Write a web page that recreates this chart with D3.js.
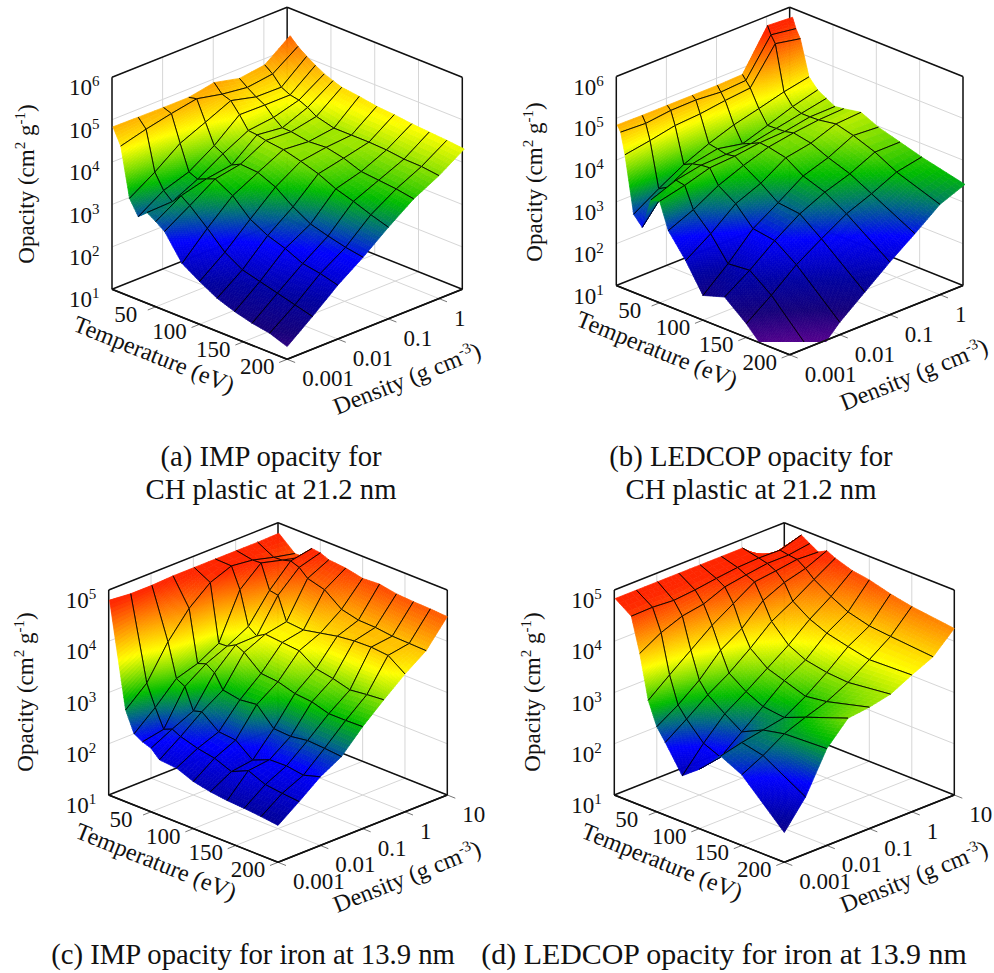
<!DOCTYPE html>
<html>
<head>
<meta charset="utf-8">
<script src="https://cdn.jsdelivr.net/npm/d3@7"></script>
<style>
  body { margin: 0; background: #fff; }
  text { font-family: "Liberation Serif", serif; fill: #111; }
</style>
</head>
<body>
<script>
// density grid is half decades, log10(g/cm3)
const densityLogCH = [-3, -2.5, -2, -1.5, -1, -0.5, 0, 0.5];
const densityLogFe = [-3, -2.5, -2, -1.5, -1, -0.5, 0, 0.5, 1];

const tempImpCH = [1, 10, 20, 30, 40, 50, 60, 80, 100, 120, 140, 160, 180, 200];
const tempLedCH = [1, 5, 10, 20, 30, 40, 50, 60, 80, 100, 125, 150, 200];
const tempImpFe = [1, 20, 30, 40, 50, 60, 80, 100, 120, 140, 160, 180, 200];
const tempLedFe = [1, 20, 30, 40, 50, 60, 80, 100, 125, 150, 200];

// log10 opacity, one row per density, one column per temperature
const opacityImpCH = [
  [4.84,4.46,3.31,2.96,3.14,3.01,2.86,2.27,2.01,1.78,1.63,1.52,1.45,1.30],
  [4.83,4.62,3.69,3.34,3.16,3.38,3.23,2.86,2.46,2.21,2.10,1.99,1.88,1.77],
  [4.82,4.75,4.13,3.54,3.45,3.54,3.62,3.39,3.00,2.78,2.64,2.45,2.38,2.27],
  [4.82,4.86,4.39,3.92,3.81,3.63,3.73,3.70,3.52,3.22,2.98,2.86,2.76,2.69],
  [4.93,4.73,4.66,4.41,4.12,4.10,4.05,4.00,3.89,3.76,3.57,3.44,3.29,3.16],
  [4.79,4.65,4.51,4.40,4.19,4.03,4.02,3.95,3.98,3.89,3.74,3.70,3.66,3.59],
  [4.87,4.73,4.50,4.40,4.36,4.27,4.14,4.03,4.03,4.03,4.01,3.96,3.95,3.90],
  [5.32,5.14,4.99,4.86,4.74,4.66,4.59,4.54,4.47,4.44,4.39,4.36,4.33,4.29]
];
const opacityLedCH = [
  [4.85,4.71,4.21,2.87,2.64,3.38,3.43,2.81,2.26,1.59,1.76,1.33,0.26],
  [4.84,4.68,4.31,3.24,3.36,3.61,3.57,3.07,2.66,2.11,2.16,1.77,0.70],
  [4.84,4.75,4.43,3.58,3.68,3.73,3.75,3.41,3.14,2.71,2.63,2.26,1.30],
  [4.84,4.76,4.47,3.84,3.80,3.75,3.79,3.65,3.39,3.09,3.03,2.64,1.78],
  [4.84,4.71,4.55,4.05,3.68,3.77,3.87,3.85,3.76,3.49,3.31,3.00,2.26],
  [4.86,4.75,4.61,4.20,3.88,3.89,3.90,3.95,3.87,3.69,3.51,3.24,2.70],
  [5.79,5.60,5.43,4.36,4.09,4.01,4.01,4.02,4.09,3.98,3.79,3.52,3.16],
  [5.75,5.51,5.31,4.48,4.25,4.13,4.02,4.05,4.13,3.94,3.79,3.64,3.40]
];
const opacityImpFe = [
  [4.81,2.79,2.39,2.30,2.24,2.08,2.05,1.92,1.85,1.81,1.79,1.76,1.72],
  [4.77,3.15,2.74,2.38,2.45,2.37,2.27,2.21,2.08,2.23,2.09,2.05,2.02],
  [4.77,3.79,3.14,3.05,2.64,2.69,2.43,2.40,2.14,2.28,2.29,2.24,2.34],
  [4.79,4.28,3.27,3.33,3.22,2.95,2.89,2.93,2.59,2.57,2.62,2.60,2.57],
  [4.79,4.62,3.50,3.51,3.60,3.52,3.24,3.21,3.11,3.08,2.98,2.98,2.99],
  [4.79,4.78,4.38,3.73,3.61,3.71,3.68,3.65,3.43,3.37,3.28,3.32,3.35],
  [4.79,4.73,4.74,4.27,4.24,3.79,3.76,3.83,3.90,3.94,3.95,3.92,3.69],
  [4.79,4.62,4.63,4.68,4.62,4.47,4.38,4.13,4.05,4.04,4.00,3.99,3.98],
  [4.80,4.53,4.53,4.76,4.74,4.67,4.64,4.57,4.59,4.53,4.51,4.50,4.48]
];
const opacityLedFe = [
  [4.84,4.62,3.96,3.11,2.66,2.42,1.90,2.16,2.58,2.38,1.58],
  [4.84,4.63,4.20,3.44,2.92,2.71,2.37,2.23,2.68,2.59,2.11],
  [4.84,4.60,4.36,3.76,3.24,3.02,2.78,2.56,2.76,2.85,2.89],
  [4.84,4.64,4.43,4.08,3.66,3.28,3.05,2.89,2.84,3.01,3.32],
  [4.84,4.70,4.60,4.34,3.92,3.60,3.34,3.23,3.09,3.15,3.37],
  [4.84,4.75,4.67,4.60,4.30,3.96,3.63,3.47,3.39,3.36,3.46],
  [4.84,4.77,4.73,4.65,4.49,4.19,3.97,3.83,3.73,3.64,3.67],
  [4.44,4.76,4.73,4.71,4.60,4.45,4.25,4.08,3.97,3.93,3.86],
  [4.54,4.89,4.79,4.69,4.78,4.70,4.59,4.54,4.43,4.35,4.25]
];

const tempTicks = [50, 100, 150, 200];
const densTicksCH = [-3, -2, -1, 0];
const densTicksFe = [-3, -2, -1, 0, 1];
const densTickLabels = { '-3': '0.001', '-2': '0.01', '-1': '0.1', '0': '1', '1': '10' };
const zTicksCH = [1, 2, 3, 4, 5, 6];
const zTicksFe = [1, 2, 3, 4, 5];

const captionA = ['(a) IMP opacity for', 'CH plastic at 21.2 nm'];
const captionB = ['(b) LEDCOP opacity for', 'CH plastic at 21.2 nm'];
const captionC = ['(c) IMP opacity for iron at 13.9 nm'];
const captionD = ['(d) LEDCOP opacity for iron at 13.9 nm'];

// colour against height in the box, 0 = floor and 1 = top
const colorScale = d3.scaleLinear()
  .domain([0, 0.1, 0.2, 0.33, 0.42, 0.5, 0.58, 0.67, 0.78, 0.93, 1])
  .range(['#50008c', '#14007a', '#0000a0', '#0000ff', '#006a80', '#00bc00', '#7ede00', '#ffff00', '#ffa500', '#ff2800', '#ff2000'])
  .clamp(true);

const svg = d3.select('body').append('svg').attr('width', 994).attr('height', 973);

function superText(sel, parts) {
  let back = 0;
  parts.forEach(p => {
    const up = p.startsWith('^');
    sel.append('tspan')
      .attr('font-size', up ? 15 : null)
      .attr('dy', up ? -9 : back)
      .text(up ? p.slice(1) : p);
    back = up ? 9 : 0;
  });
}

function drawPanel(p) {
  const g = svg.append('g').attr('font-size', 23);
  const uScale = d3.scaleLinear().domain([0, 200]).range([0, 1]);
  const vScale = d3.scaleLinear().domain(p.densDomain).range([0, 1]);
  const zScale = d3.scaleLinear().domain(p.zDomain).range([0, 1]);
  const sx = d3.scaleLinear().domain([0, 2]).range([p.xL, p.xR]);
  const sy = d3.scaleLinear().domain([-1, 1]).range([p.yB - p.d, p.yB + p.d]);
  const px = (u, v) => sx(u + v);
  const py = (u, v, z) => sy(u - v) - z * p.h;
  const line = (x1, y1, x2, y2, col, w) => g.append('line')
    .attr('x1', x1).attr('y1', y1).attr('x2', x2).attr('y2', y2)
    .attr('stroke', col).attr('stroke-width', w);

  // grid on the walls and the floor
  const grey = '#d6d6d6';
  p.zTicks.forEach(t => {
    const z = zScale(t);
    line(px(0, 0), py(0, 0, z), px(0, 1), py(0, 1, z), grey, 1);
    line(px(0, 1), py(0, 1, z), px(1, 1), py(1, 1, z), grey, 1);
  });
  p.densTicks.forEach(t => {
    const v = vScale(t);
    line(px(0, v), py(0, v, 0), px(0, v), py(0, v, 1), grey, 1);
    line(px(0, v), py(0, v, 0), px(1, v), py(1, v, 0), grey, 1);
    line(px(1, v), py(1, v, 0), px(1, v) + 8, py(1, v, 0) + 3.2, '#666', 0.9);
  });
  tempTicks.forEach(t => {
    const u = uScale(t);
    line(px(u, 1), py(u, 1, 0), px(u, 1), py(u, 1, 1), grey, 1);
    line(px(u, 0), py(u, 0, 0), px(u, 1), py(u, 1, 0), grey, 1);
    line(px(u, 0), py(u, 0, 0), px(u, 0) - 8, py(u, 0, 0) + 3.2, '#666', 0.9);
  });

  // box lines behind the surface
  const corners = {
    lb: [px(0, 0), py(0, 0, 0)], lt: [px(0, 0), py(0, 0, 1)],
    bb: [px(0, 1), py(0, 1, 0)], bt: [px(0, 1), py(0, 1, 1)],
    rb: [px(1, 1), py(1, 1, 0)], rt: [px(1, 1), py(1, 1, 1)],
    fb: [px(1, 0), py(1, 0, 0)]
  };
  [['lb', 'lt'], ['lt', 'bt'], ['bt', 'rt'], ['rt', 'rb'], ['bt', 'bb'], ['lb', 'bb'], ['bb', 'rb'], ['lb', 'fb'], ['fb', 'rb']]
    .forEach(e => line(corners[e[0]][0], corners[e[0]][1], corners[e[1]][0], corners[e[1]][1], '#111', 1.5));

  // surface, painted from the far corner to the near one
  const surf = g.append('g');
  if (p.clipY) {
    svg.append('clipPath').attr('id', p.id).append('rect')
      .attr('x', 0).attr('y', 0).attr('width', 994).attr('height', p.clipY);
    surf.attr('clip-path', `url(#${p.id})`);
  }
  const nT = p.temps.length;
  const nD = p.dens.length;
  const us = p.temps.map(uScale);
  const vs = p.dens.map(vScale);
  const zz = p.values.map(r => r.map(zScale));
  const pt = (i, j) => [px(us[i], vs[j]), py(us[i], vs[j], zz[j][i])];

  for (let i = 0; i < nT - 1; i++) {
    for (let j = nD - 2; j >= 0; j--) {
      const q = [zz[j][i], zz[j][i + 1], zz[j + 1][i + 1], zz[j + 1][i]];
      const a = pt(i, j), b = pt(i + 1, j), c = pt(i + 1, j + 1), e = pt(i, j + 1);
      const n = Math.max(2, Math.min(26, Math.ceil((d3.max(q) - d3.min(q)) * p.h / 3)));
      const lerp = (s, t) => [
        (1 - s) * (1 - t) * a[0] + s * (1 - t) * b[0] + s * t * c[0] + (1 - s) * t * e[0],
        (1 - s) * (1 - t) * a[1] + s * (1 - t) * b[1] + s * t * c[1] + (1 - s) * t * e[1]
      ];
      const zAt = (s, t) => (1 - s) * (1 - t) * q[0] + s * (1 - t) * q[1] + s * t * q[2] + (1 - s) * t * q[3];
      for (let k = 0; k < n; k++) {
        for (let m = 0; m < n; m++) {
          const s0 = k / n, s1 = (k + 1) / n, t0 = m / n, t1 = (m + 1) / n;
          const col = colorScale(zAt((s0 + s1) / 2, (t0 + t1) / 2));
          const path = d3.path();
          const c0 = lerp(s0, t0), c1 = lerp(s1, t0), c2 = lerp(s1, t1), c3 = lerp(s0, t1);
          path.moveTo(c0[0], c0[1]);
          path.lineTo(c1[0], c1[1]);
          path.lineTo(c2[0], c2[1]);
          path.lineTo(c3[0], c3[1]);
          path.closePath();
          surf.append('path').attr('d', path.toString())
            .attr('fill', col).attr('stroke', col).attr('stroke-width', 0.7);
        }
      }
      // mesh lines, the outer rim of the surface has none
      const edge = (f, h) => surf.append('line')
        .attr('x1', f[0]).attr('y1', f[1]).attr('x2', h[0]).attr('y2', h[1])
        .attr('stroke', '#000').attr('stroke-width', 0.9);
      if (j > 0) edge(a, b);
      if (j + 1 < nD - 1) edge(e, c);
      if (i > 0) edge(a, e);
      if (i + 1 < nT - 1) edge(b, c);
    }
  }

  // front floor edges stay on top
  line(corners.lb[0], corners.lb[1], corners.fb[0], corners.fb[1], '#111', 1.5);
  line(corners.fb[0], corners.fb[1], corners.rb[0], corners.rb[1], '#111', 1.5);

  // tick labels
  p.zTicks.forEach(t => {
    const text = g.append('text')
      .attr('x', p.xL - 43)
      .attr('y', py(0, 0, zScale(t)) + 18);
    text.append('tspan').text('10');
    text.append('tspan').attr('font-size', 15).attr('dy', -9).text(t);
  });
  tempTicks.forEach(t => {
    const u = uScale(t);
    g.append('text').attr('text-anchor', 'middle')
      .attr('x', px(u, 0) - 30).attr('y', py(u, 0, 0) + 15).text(t);
  });
  p.densTicks.forEach(t => {
    const v = vScale(t);
    g.append('text')
      .attr('x', px(1, v) + 15).attr('y', py(1, v, 0) + 27).text(densTickLabels[t]);
  });

  // axis titles
  const tilt = 21.8;
  superText(g.append('text').attr('text-anchor', 'middle').attr('font-size', 23)
    .attr('transform', `translate(${p.yLabel[0]},${p.yLabel[1]}) rotate(-90)`),
    ['Opacity (cm', '^2', ' g', '^-1', ')']);
  superText(g.append('text').attr('text-anchor', 'middle').attr('font-size', 24)
    .attr('transform', `translate(${p.tLabel[0]},${p.tLabel[1]}) rotate(${tilt})`),
    ['Temperature (eV)']);
  superText(g.append('text').attr('text-anchor', 'middle').attr('font-size', 24)
    .attr('transform', `translate(${p.dLabel[0]},${p.dLabel[1]}) rotate(${-tilt})`),
    ['Density (g cm', '^-3', ')']);

  p.caption.forEach((c, i) => g.append('text').attr('text-anchor', 'middle')
    .attr('font-size', p.capSize || 28.7)
    .attr('x', p.capX).attr('y', p.capY + i * 33).text(c));
}

drawPanel({
  id: 'pa', temps: tempImpCH, dens: densityLogCH, values: opacityImpCH,
  densDomain: [-3, 0.46], zDomain: [1, 6], densTicks: densTicksCH, zTicks: zTicksCH,
  xL: 112, xR: 462.3, yB: 289.3, d: 70, h: 212,
  yLabel: [34, 184], tLabel: [151, 362], dLabel: [410, 386], caption: captionA, capX: 271, capY: 466
});
drawPanel({
  id: 'pb', temps: tempLedCH, dens: densityLogCH, values: opacityLedCH,
  densDomain: [-3, 0.46], zDomain: [1, 6], densTicks: densTicksCH, zTicks: zTicksCH,
  xL: 616.3, xR: 963, yB: 285.5, d: 69.3, h: 209, clipY: 342,
  yLabel: [542, 182], tLabel: [654, 357], dLabel: [917, 382], caption: captionB, capX: 751, capY: 466
});
drawPanel({
  id: 'pc', temps: tempImpFe, dens: densityLogFe, values: opacityImpFe,
  densDomain: [-3, 1], zDomain: [1, 5], densTicks: densTicksFe, zTicks: zTicksFe,
  xL: 108.7, xR: 447.3, yB: 795, d: 67.3, h: 205,
  yLabel: [33, 692], tLabel: [153, 869], dLabel: [410, 884], caption: captionC, capX: 253, capY: 964
});
drawPanel({
  id: 'pd', temps: tempLedFe, dens: densityLogFe, values: opacityLedFe,
  densDomain: [-3, 1], zDomain: [1, 5], densTicks: densTicksFe, zTicks: zTicksFe,
  xL: 614.3, xR: 954.3, yB: 795, d: 67.3, h: 205,
  yLabel: [540, 692], tLabel: [659, 869], dLabel: [917, 884], caption: captionD, capX: 724, capY: 964, capSize: 29.9
});
</script>
</body>
</html>
